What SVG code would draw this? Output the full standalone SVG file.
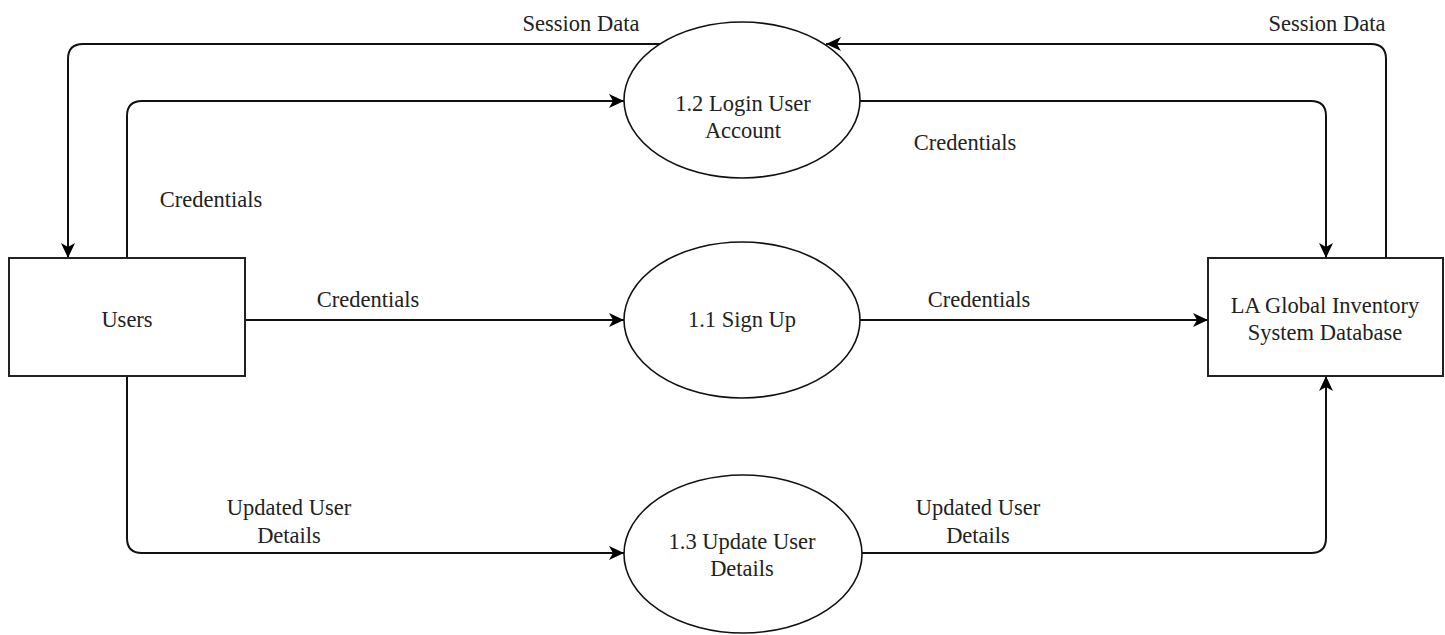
<svg xmlns="http://www.w3.org/2000/svg" width="1445" height="635" viewBox="0 0 1445 635">
<defs>
<marker id="arr" markerUnits="userSpaceOnUse" markerWidth="16" markerHeight="14" refX="15" refY="7" orient="auto">
<path d="M0,0 L15,7 L0,14 L4,7 Z" fill="#000"/>
</marker>
<style>
.box{fill:#fff;stroke:#222;stroke-width:2}
.ell{fill:#fff;stroke:#111;stroke-width:1.6}
.c{fill:none;stroke:#111;stroke-width:2;marker-end:url(#arr)}
.t{font-family:'Liberation Serif','Times New Roman',Times,serif;font-size:22.5px;fill:#222;text-anchor:middle}
</style>
</defs>
<rect width="1445" height="635" fill="#fff"/>
<g id="connectors">
<path class="c" d="M660,44 H83 Q68,44 68,59 V258"/>
<path class="c" d="M127,258 V116 Q127,101 142,101 H624"/>
<path class="c" d="M1386,258 V59 Q1386,44 1371,44 H826"/>
<path class="c" d="M860,101 H1311 Q1326,101 1326,116 V258"/>
<path class="c" d="M245,320 H624"/>
<path class="c" d="M860,320 H1208"/>
<path class="c" d="M127,376 V538 Q127,553 142,553 H624"/>
<path class="c" d="M862,553 H1311 Q1326,553 1326,538 V376"/>
<text class="t" font-family="'Liberation Serif', serif" x="581" y="31">Session Data</text>
<text class="t" font-family="'Liberation Serif', serif" x="1327" y="31">Session Data</text>
<text class="t" font-family="'Liberation Serif', serif" x="965" y="150">Credentials</text>
<text class="t" font-family="'Liberation Serif', serif" x="211" y="207">Credentials</text>
<text class="t" font-family="'Liberation Serif', serif" x="368" y="307">Credentials</text>
<text class="t" font-family="'Liberation Serif', serif" x="979" y="307">Credentials</text>
<text class="t" font-family="'Liberation Serif', serif" x="289" y="515">Updated User</text>
<text class="t" font-family="'Liberation Serif', serif" x="289" y="543">Details</text>
<text class="t" font-family="'Liberation Serif', serif" x="978" y="515">Updated User</text>
<text class="t" font-family="'Liberation Serif', serif" x="978" y="543">Details</text>
</g>
<g id="users">
<rect class="box" x="9" y="258" width="236" height="118"/>
<text class="t" font-family="'Liberation Serif', serif" x="127" y="327">Users</text>
</g>
<g id="db">
<rect class="box" x="1208" y="258" width="235" height="118"/>
<text class="t" font-family="'Liberation Serif', serif" x="1325" y="313">LA Global Inventory</text>
<text class="t" font-family="'Liberation Serif', serif" x="1325" y="340">System Database</text>
</g>
<g id="p12">
<ellipse class="ell" cx="742" cy="100" rx="118" ry="78"/>
<text class="t" font-family="'Liberation Serif', serif" x="743" y="111">1.2 Login User</text>
<text class="t" font-family="'Liberation Serif', serif" x="743" y="138">Account</text>
</g>
<g id="p11">
<ellipse class="ell" cx="742" cy="320" rx="118" ry="78"/>
<text class="t" font-family="'Liberation Serif', serif" x="742" y="327">1.1 Sign Up</text>
</g>
<g id="p13">
<ellipse class="ell" cx="743" cy="554" rx="119" ry="79"/>
<text class="t" font-family="'Liberation Serif', serif" x="742" y="549">1.3 Update User</text>
<text class="t" font-family="'Liberation Serif', serif" x="742" y="576">Details</text>
</g>
</svg>
